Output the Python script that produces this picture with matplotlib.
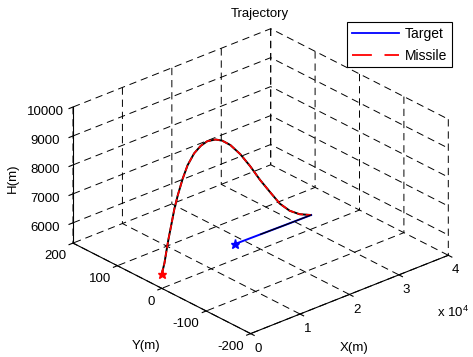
import numpy as np
import matplotlib
matplotlib.use("Agg")
import matplotlib.pyplot as plt
from matplotlib.lines import Line2D
from mpl_toolkits.mplot3d import proj3d

# Missile trajectory (x, y, h in m)
missile_x = [0, 540, 880, 1340, 1880, 2540, 3220, 4220, 5220, 6540, 7880,
             9220, 10880, 12220, 13880, 15880, 17880, 19880, 21880, 23880,
             25880, 27880, 30200]
missile_y = [0] * len(missile_x)
missile_h = [5790, 6140, 6470, 6900, 7330, 7870, 8290, 8800, 9200, 9520, 9690,
             9760, 9705, 9575, 9310, 8860, 8310, 7700, 7150, 6610,
             6230, 5975, 5790]

# Target trajectory
target_x = [14900, 20000, 25000, 30200]
target_y = [0, 0, 0, 0]
target_h = [5830, 5815, 5800, 5790]

xticks = [0, 10000, 20000, 30000, 40000]
xticklabels = ["0", "1", "2", "3", "4"]
yticks = [-200, -100, 0, 100, 200]
yticklabels = ["-200", "-100", "0", "100", "200"]
zticks = [6000, 7000, 8000, 9000, 10000]

plt.rcParams["font.family"] = ["Liberation Sans", "DejaVu Sans"]
plt.rcParams["font.size"] = 9.5
plt.rcParams["axes.unicode_minus"] = False
plt.rcParams["grid.linestyle"] = (0, (7.5, 5))
plt.rcParams["grid.color"] = "black"
plt.rcParams["grid.linewidth"] = 0.7

fig = plt.figure(figsize=(4.73, 3.57), dpi=100)
ax = fig.add_axes([0.0, 0.0, 1.0, 1.0], projection="3d", proj_type="ortho")
ax.view_init(elev=26.7, azim=-131.4)
ax.set_box_aspect((263, 268, 152))
ax.computed_zorder = False

ax.plot(missile_x, missile_y, missile_h, color="black", lw=1.4, zorder=3)
ax.plot(missile_x, missile_y, missile_h, "r--", lw=1.2, zorder=4)
ax.plot(target_x, target_y, target_h, "b-", lw=1.4, zorder=3)
ax.plot(target_x[1:], target_y[1:], target_h[1:], "k-", lw=0.9, zorder=4)
ax.plot([missile_x[0]], [missile_y[0]], [missile_h[0]], "r*", ms=6.5, zorder=5)
ax.plot([target_x[0]], [target_y[0]], [target_h[0]], "b*", ms=6.5, zorder=5)

ax.set_xlim(0, 40000)
ax.set_ylim(-200, 200)
ax.set_zlim(5300, 10000)
ax.set_xticks(xticks)
ax.set_xticklabels(xticklabels)
ax.set_yticks(yticks)
ax.set_yticklabels(yticklabels, ha="right")
ax.set_zticks(zticks)
ax.tick_params(axis="x", pad=-2)
ax.tick_params(axis="y", pad=-3)
ax.tick_params(axis="z", pad=3)

for a in (ax.xaxis, ax.yaxis, ax.zaxis):
    a.set_pane_color((1, 1, 1, 1))
    a.pane.set_edgecolor("white")
    a.line.set_linewidth(0.8)
    a._axinfo["tick"]["inward_factor"] = 0.25
    a._axinfo["tick"]["outward_factor"] = 0.0

legend_handles = [Line2D([], [], color="blue", lw=1.3),
                  Line2D([], [], color="red", lw=1.3, linestyle=(0, (11, 7)))]
leg = ax.legend(legend_handles, ["Target", "Missile"],
                loc="upper right", bbox_to_anchor=(452 / 473, 1 - 22 / 357),
                bbox_transform=fig.transFigure, borderaxespad=0, fontsize=10,
                fancybox=False, edgecolor="black", framealpha=1,
                handlelength=3.4, handletextpad=0.4, borderpad=0.35,
                labelspacing=0.55)
leg.get_frame().set_linewidth(0.8)

fig.text(260 / 473, 1 - 13.5 / 357, "Trajectory", ha="center", va="center")
fig.text(354 / 473, 1 - 348 / 357, "X(m)", ha="center", va="center")
fig.text(146 / 473, 1 - 346 / 357, "Y(m)", ha="center", va="center")
fig.text(13 / 473, 1 - 178 / 357, "H(m)", ha="center", va="center", rotation=90)
fig.text(453 / 473, 1 - 312 / 357, r"x 10$^{\mathregular{4}}$", ha="center", va="center")

# fit the projected box to the reference position
fig.canvas.draw()
cx, cy, cz = np.meshgrid([0, 40000], [-200, 200], [5300, 10000])
xs, ys, _ = proj3d.proj_transform(cx.ravel(), cy.ravel(), cz.ravel(), ax.get_proj())
pts = ax.transData.transform(np.column_stack([xs, ys]))
W, H = fig.bbox.width, fig.bbox.height
bx0, bx1 = pts[:, 0].min(), pts[:, 0].max()
by0, by1 = pts[:, 1].min(), pts[:, 1].max()
s = (448.3 - 73.0) / (bx1 - bx0)
pos = ax.get_position()
acx = (pos.x0 + pos.x1) / 2 * W
acy = (pos.y0 + pos.y1) / 2 * H
dx = (bx0 + bx1) / 2 - acx
dy = (by0 + by1) / 2 - acy
want_x = (73.0 + 448.3) / 2
want_y = H - (29.0 + 333.3) / 2
side = pos.width * W * s
ncx = want_x - s * dx
ncy = want_y - s * dy
ax.set_position([(ncx - side / 2) / W, (ncy - side / 2) / H, side / W, side / H])

fig.savefig("out.png", dpi=100)
